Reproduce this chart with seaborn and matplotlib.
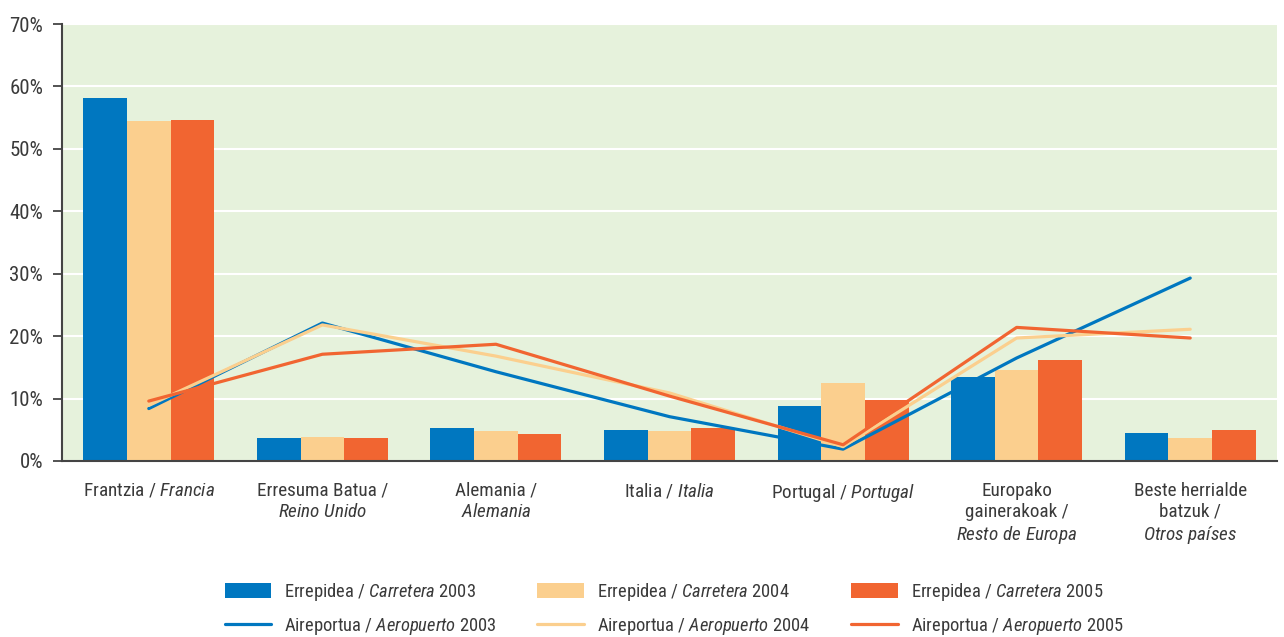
import matplotlib
matplotlib.use("Agg")
import matplotlib.pyplot as plt
from matplotlib import font_manager as fm
from matplotlib.patches import Patch
from matplotlib.lines import Line2D
import numpy as np
import pandas as pd
import seaborn as sns

# data (percent)
countries = ["Frantzia", "Erresuma Batua", "Alemania", "Italia", "Portugal", "Europa", "Beste"]
tick_labels = [
    r"Frantzia / $\mathit{Francia}$",
    "Erresuma Batua /\n" + r"$\mathit{Reino\ Unido}$",
    "Alemania /\n" + r"$\mathit{Alemania}$",
    r"Italia / $\mathit{Italia}$",
    r"Portugal / $\mathit{Portugal}$",
    "Europako\ngainerakoak /\n" + r"$\mathit{Resto\ de\ Europa}$",
    "Beste herrialde\nbatzuk /\n" + r"$\mathit{Otros\ países}$",
]
years = ["2003", "2004", "2005"]
road_2003 = [58.1, 3.7, 5.3, 5.0, 8.8, 13.5, 4.5]
road_2004 = [54.5, 3.8, 4.8, 4.8, 12.5, 14.6, 3.7]
road_2005 = [54.6, 3.7, 4.3, 5.3, 9.8, 16.2, 5.0]
air_2003 = [8.4, 22.1, 14.3, 7.1, 1.9, 16.5, 29.3]
air_2004 = [8.9, 21.8, 16.8, 10.9, 2.3, 19.7, 21.1]
air_2005 = [9.6, 17.1, 18.7, 10.4, 2.6, 21.4, 19.7]

colors = {"2003": "#0077C0", "2004": "#FBCF8E", "2005": "#F16531"}
text_col = "#3a3a3a"

# look for a narrow / condensed face, the original uses one
fonts = fm.fontManager.ttflist
names = {f.name for f in fonts}
font, stretch = "DejaVu Sans", "normal"
for n in ["Liberation Sans Narrow", "Roboto Condensed", "Noto Sans Condensed",
          "Open Sans Condensed", "DejaVu Sans Condensed"]:
    if n in names:
        font = n
        break
else:
    for n in ["Roboto", "Noto Sans", "DejaVu Sans", "Open Sans"]:
        if any(f.name == n and f.stretch == "condensed" for f in fonts):
            font, stretch = n, "condensed"
            break

sns.set_style("white")
plt.rcParams["font.family"] = [font, "DejaVu Sans"]
plt.rcParams["font.stretch"] = stretch
plt.rcParams["mathtext.fontset"] = "custom"
plt.rcParams["mathtext.rm"] = font
plt.rcParams["mathtext.it"] = font + ":italic"
plt.rcParams["text.color"] = text_col

road = pd.DataFrame({
    "country": countries * 3,
    "year": np.repeat(years, 7),
    "value": road_2003 + road_2004 + road_2005,
})
air = pd.DataFrame({
    "pos": list(range(7)) * 3,
    "year": np.repeat(years, 7),
    "value": air_2003 + air_2004 + air_2005,
})

fig = plt.figure(figsize=(12.84, 6.37), dpi=100)
ax = fig.add_axes([62 / 1284, 1 - 461 / 637, (1277 - 62) / 1284, (461 - 24) / 637])
ax.set_facecolor("#E6F2DC")

sns.barplot(data=road, x="country", y="value", hue="year", order=countries,
            palette=colors, width=0.755, gap=0, saturation=1, legend=False, ax=ax,
            linewidth=0, edgecolor="none", zorder=2)
sns.lineplot(data=air, x="pos", y="value", hue="year", palette=colors,
             linewidth=2.3, legend=False, sort=False, ax=ax, zorder=3)

ax.set_xlim(-0.5, 6.5)
ax.set_ylim(0, 70)
ax.set_xlabel("")
ax.set_ylabel("")

ax.set_yticks(range(0, 80, 10))
ax.set_yticklabels([f"{v}%" for v in range(0, 80, 10)])
ax.yaxis.grid(True, color="white", linewidth=1.5, zorder=0)
ax.set_axisbelow(True)

ax.set_xticks(range(7))
ax.set_xticklabels(tick_labels, va="top", linespacing=1.2)
ax.set_xticks(np.arange(-0.5, 7, 1), minor=True)
ax.tick_params(axis="x", which="major", length=0, pad=15, labelsize=13.8, labelcolor=text_col)
ax.tick_params(axis="x", which="minor", length=7, width=1.3, color="#444444", direction="out")
ax.tick_params(axis="y", length=6.5, width=1.3, color="#444444", direction="out",
               pad=7, labelsize=15, labelcolor=text_col, left=True)

for side in ["top", "right"]:
    ax.spines[side].set_visible(False)
for side in ["left", "bottom"]:
    ax.spines[side].set_color("#444444")
    ax.spines[side].set_linewidth(1.5)

handles = []
labels = []
for y in years:
    handles.append(Patch(facecolor=colors[y], edgecolor="none"))
    labels.append(r"Errepidea / $\mathit{Carretera}$ " + y)
    handles.append(Line2D([], [], color=colors[y], linewidth=2.3))
    labels.append(r"Aireportua / $\mathit{Aeropuerto}$ " + y)

fig.legend(handles, labels, ncol=3, loc="center", bbox_to_anchor=(0.525, 0.044),
           frameon=False, fontsize=13.3, handlelength=2.54, handleheight=0.9,
           handletextpad=0.7, columnspacing=2.2, labelspacing=0.68)

fig.savefig("out.png", dpi=100)
